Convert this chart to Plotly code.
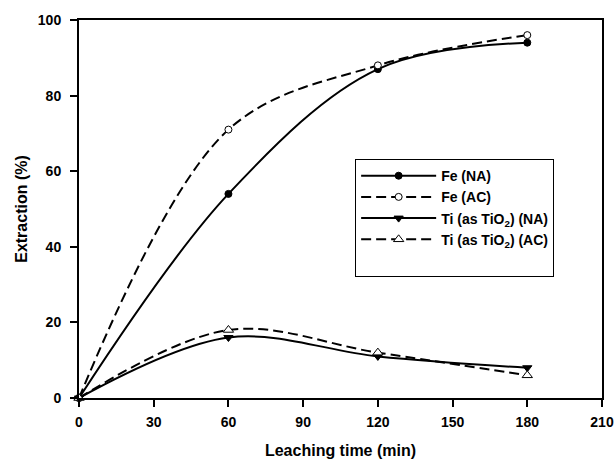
import plotly.graph_objects as go

time_min = [0, 60, 120, 180]
fe_na = [0, 54, 87, 94]
fe_ac = [0, 71, 88, 96]
ti_na = [0, 16, 11, 8]
ti_ac = [0, 18, 12, 6]

series = [
    ("Fe (NA)", fe_na, "solid", "circle", "black", 7),
    ("Fe (AC)", fe_ac, "10px,5px", "circle", "white", 7),
    ("Ti (as TiO<sub>2</sub>) (NA)", ti_na, "solid", "triangle-down", "black", 8),
    ("Ti (as TiO<sub>2</sub>) (AC)", ti_ac, "10px,5px", "triangle-up", "white", 9),
]

fig = go.Figure()
for name, vals, dash, sym, fill, size in series:
    fig.add_trace(go.Scatter(
        x=time_min, y=vals, name=name, mode="lines+markers",
        line=dict(color="black", width=2, dash=dash, shape="spline", smoothing=1.0),
        marker=dict(symbol=sym, size=size, color=fill,
                    line=dict(color="black", width=1)),
        cliponaxis=False,
    ))

# blank legend row to reproduce the padding at the bottom of the legend box
fig.add_trace(go.Scatter(x=[None], y=[None], name=" ", mode="markers",
                         marker=dict(color="rgba(0,0,0,0)"), hoverinfo="skip"))

fig.update_layout(
    width=616, height=459,
    margin=dict(l=79, r=14, t=20, b=61),
    paper_bgcolor="white", plot_bgcolor="white",
    font=dict(family="Liberation Sans, Arial, sans-serif", color="black"),
    showlegend=True,
    legend=dict(x=0.528, y=0.632, xanchor="left", yanchor="top",
                bgcolor="white", bordercolor="black", borderwidth=1,
                font=dict(family="Liberation Sans, Arial, sans-serif", size=14,
                          color="black", weight="bold"),
                itemwidth=75, tracegroupgap=0),
)
fig.update_xaxes(
    range=[0, 210], tickvals=[0, 30, 60, 90, 120, 150, 180, 210],
    showgrid=False, zeroline=False, showline=True, linecolor="black", linewidth=2,
    mirror=True, ticks="outside", ticklen=7, tickwidth=2, tickcolor="black",
    tickfont=dict(size=14, weight="bold"), ticklabelstandoff=3, automargin=False,
    ticklabeloverflow="allow",
    title=dict(text="Leaching time (min)", font=dict(size=16, weight="bold"), standoff=16),
)
fig.update_yaxes(
    range=[0, 100], tickvals=[0, 20, 40, 60, 80, 100],
    showgrid=False, zeroline=False, showline=True, linecolor="black", linewidth=2,
    mirror=True, ticks="outside", ticklen=7, tickwidth=2, tickcolor="black",
    tickfont=dict(size=14, weight="bold"), ticklabelstandoff=6, automargin=False,
    ticklabeloverflow="allow",
    title=dict(text="Extraction (%)", font=dict(size=16, weight="bold"), standoff=6),
)
fig.write_html("out.html")
